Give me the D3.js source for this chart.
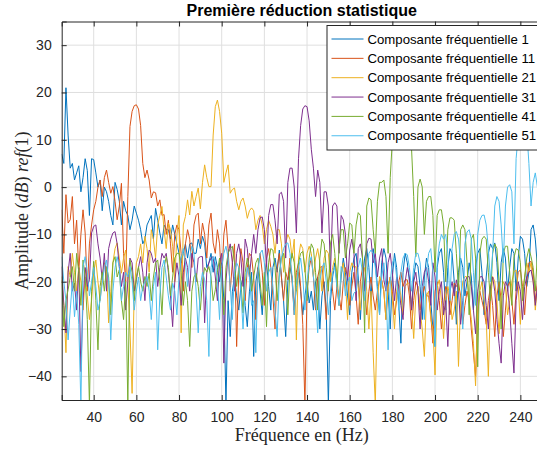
<!DOCTYPE html>
<html>
<head>
<meta charset="utf-8">
<script src="https://cdn.jsdelivr.net/npm/d3@7/dist/d3.min.js"></script>
<style>
  body { margin: 0; background: #fff; }
  svg { display: block; }
</style>
</head>
<body>
<div id="chart"></div>
<script>
// frequency grid (Hz), one sample per Hz
let freqStart = 25
let freqEnd = 250

// amplitude in dB ref(1), one value per Hz from 25 to 250
let comp1 = [
  7, 5, 21, 11, 4, 5, 1.5, 3, 4.5, -1,
  2, 6, 3.5, -6, 6, 5.8, 3, 0, 1.5, -5,
  0, -1, -3, -6, -8, 1, -0.5, -3, -8, -3,
  -5, -6, -9, -7, -4, -5.5, -7, -9, -12, -11,
  -8, -7, -6, -11, -4.5, -7, -9.7, -12, -8, -9,
  -9, -11, -8, -10, -12, -14, -16, -14, -12, -15,
  -12, -11.8, -14, -14, -11, -13, -10.4, -12, -17, -16,
  -14, -18, -14.7, -17, -20, -16, -24, -46, -24, -31.6,
  -22, -19, -23, -26, -21, -19, -25, -29.5, -22, -18,
  -35.8, -20, -17, -22, -27, -19, -16, -21, -26, -17,
  -15, -18, -13.3, -19, -24, -31.6, -20, -17, -19, -26,
  -21, -18, -22, -27, -23, -20, -24.5, -22, -26, -20,
  -19, -30, -23, -20, -26, -46, -24, -19, -16, -20,
  -25, -19, -15, -18, -23, -27, -18, -15, -14, -19,
  -28, -20, -15, -13, -17, -24, -13, -16, -21, -27,
  -16, -13, -15, -22, -30, -19, -14, -17, -25, -33,
  -18, -14, -16, -20, -26, -19, -16, -16.8, -21, -28,
  -19, -15, -17, -24, -30, -33.7, -17, -14, -13, -18,
  -26, -17, -13, -14, -20, -29, -18, -15, -17, -23,
  -20, -16, -19, -26, -17, -14, -13, -18, -27, -19,
  -14, -12, -13, -11.8, -16, -24, -16, -13, -15, -22,
  -17, -13, -14, -22, -15, -10.4, -11, -14, -21, -18,
  -9, -8, -11, -17, -13, -10
]

let comp11 = [
  -4.8, -14, -1.6, -7.6, -6.9, -2, -12, -7, -18, -10,
  -4.8, -9.7, -22, -12, -8, -4.8, -3, 0, 1.5, -2,
  2, 3.6, 1, -1.3, 0.1, -3, -6.9, -4, 0.8, -14,
  -20, -2, 12.8, 16, 17.2, 17.4, 16.5, 13, 5, 2,
  3.6, 1.5, -2.3, -1, -1.2, -4, -2.7, -6, -5.8, -10,
  -7, -12, -18, -10, -8, -9, -14, -22, -12, -9,
  -11, -17, -8, -6, -5.5, -12, -7.6, -10, -15, -8,
  -5.5, -11.8, -14, -9, -12, -20, -10, -7, -13, -22,
  -16, -12, -33.7, -18, -13, -16, -24, -17, -14, -14.7,
  -19, -28, -17, -14, -18, -25, -15, -13, -17, -23,
  -30, -17, -14, -19, -24, -18, -19.6, -15, -20, -27,
  -18, -16, -21, -29, -46, -22, -17, -15, -19, -26,
  -19, -17, -16.8, -21, -28, -20, -18, -22, -26, -21,
  -23, -26, -20, -17, -19, -25, -21, -18, -23, -29,
  -20, -17, -21, -27, -22, -19, -23, -26, -22, -19.6,
  -19.6, -22, -28, -21, -19, -22, -27, -24, -20, -18,
  -21, -19.6, -19.6, -23, -30, -24, -20, -21, -26, -23,
  -21, -23, -23, -27, -33, -22, -20, -24, -30, -25,
  -21, -22, -27, -24, -20.3, -21, -20.3, -23, -29, -25,
  -22, -24, -30, -35, -40, -27, -22, -24, -26, -29,
  -24, -21, -25, -31.6, -23, -20, -24, -31.6, -26, -21,
  -20, -24, -29, -22, -18, -17.5, -21, -27, -20, -16,
  -15.7, -18, -24, -20, -17, -19
]

let comp21 = [
  -19.6, -25, -35, -16.8, -19, -14, -18, -22, -16.8, -20,
  -26, -19, -23, -28, -24, -18, -15.4, -20, -24, -19,
  -16, -17.5, -28.7, -22, -16, -13, -11.8, -15, -18.2, -15,
  -13.3, -20, -30, -43.6, -22, -16, -14.7, -12, -16, -10.4,
  -13, -18, -9, -11, -15, -8, -6, -4.1, -9, -13,
  -7.6, -9, -12.5, -20, -10, -6, -30.8, -8, -6.2, -2.7,
  -5.9, -0.9, -4, -2, -0.2, -4.6, 1, 4.7, 2, 0.1,
  0.1, 11, 17, 18.4, 16, 11.4, 1, 3, 4.7, -1.3,
  -0.5, -0.2, -3, -4.8, -3, -2.3, -4, -6.6, -5, -4.4,
  -5, -9, -7, -6, -8, -12, -9, -7, -8.3, -10,
  -14, -9, -9, -12, -18, -12, -10, -11, -15, -11,
  -32.3, -15, -12, -13, -18, -14, -12.5, -14, -19, -15,
  -13, -16, -22, -15, -13.3, -14, -20, -17, -15, -18,
  -25, -18, -16, -20, -28, -18, -16, -17, -16.8, -21,
  -26, -19, -17, -22, -30, -22, -35, -46, -24, -18.9,
  -20, -22, -28, -21, -19, -24, -30, -22, -20, -23,
  -27, -21, -20.3, -20.3, -25, -32, -23, -21, -26, -30,
  -35.8, -23, -22, -28, -30, -39.7, -21, -19.6, -24, -32,
  -24, -21, -23, -28, -26, -22, -37.9, -24, -20, -18.9,
  -19, -24, -28, -33, -42, -26, -22, -20, -24, -28,
  -40, -24, -18.9, -20, -24, -31, -23, -20, -21, -27,
  -24, -20, -18, -17.5, -21, -29, -22, -19, -16, -18,
  -16, -20, -26, -21, -18, -17
]

let comp31 = [
  -16.8, -25, -30.8, -18, -14, -22, -20.3, -26, -17, -39,
  -24, -17, -21, -19.6, -9.7, -8.3, -8, -12, -15, -19.6,
  -14, -22, -13, -11, -9.7, -9.4, -12, -16.8, -21, -18,
  -26, -20, -15, -16, -22, -19.6, -17, -14.7, -18, -24,
  -16, -13.3, -14, -16, -15, -21, -17, -14, -15, -14,
  -18, -23, -29.5, -20, -16, -19, -25, -18, -15, -17,
  -22, -14, -16, -20, -15, -14.7, -14.7, -28.7, -18, -16,
  -15, -14.7, -19, -24, -16, -14, -37.2, -20, -14, -12,
  -16, -22, -14, -12, -15, -21, -11, -13, -19, -14,
  -10, -14, -9, -6.5, -6.3, -9, -16.8, -6, -3.7, -3.7,
  -7, -12, -1.5, -1.1, -3, -15, 1, 4, 4, 0,
  -9.7, 6, 13, 16.5, 17.2, 17, 14, 8, 4, -2,
  3.6, 1, -9.7, -1, -1, -4, -18, -4, -3.3, -4,
  -14, -6, -6.9, -10, -20, -13.3, -11, -14, -24, -13,
  -12, -15, -22, -12, -10.8, -11, -16, -14, -19, -15,
  -13, -19.6, -22, -16, -14, -18, -24, -19, -21, -25,
  -28, -20, -17, -19, -26, -20, -18, -22, -30, -21,
  -18, -17, -20, -25, -16, -19, -26, -22, -20, -27,
  -24, -33.7, -22, -20, -23, -19.6, -22, -29, -24, -20,
  -19, -18.9, -21, -26, -31, -22, -19, -18.9, -20, -25,
  -30, -21, -19, -22, -28, -33, -37.2, -23, -20, -21,
  -26, -33, -39.3, -24, -20, -22, -28, -21, -19, -18,
  -17.5, -20, -25, -21, -19, -22
]

let comp41 = [
  -18.9, -29.5, -24, -21.7, -19, -16.8, -22, -14, -18, -25,
  -15.4, -19, -28, -46, -22, -15.7, -24, -34.4, -21, -18,
  -22, -16.8, -19, -27, -16, -14.7, -19, -17.5, -24, -28,
  -20, -46, -15.4, -18, -24, -19, -16.8, -20, -22, -18.9,
  -21, -18.2, -24, -19, -16, -15.4, -20, -27, -17, -14.7,
  -17, -23, -19, -15, -14, -14, -18, -25, -20, -24,
  -33.7, -22, -19, -18.2, -21, -26, -20, -17, -18, -16.8,
  -19, -24, -21.7, -18, -15, -20, -27, -17, -14, -13,
  -12.5, -16, -21, -17, -20, -26.6, -18, -15, -17, -22,
  -19, -16, -15, -20, -25, -18, -29.5, -16, -13, -13.3,
  -17, -24, -18, -15, -14, -19, -27, -17, -14, -16,
  -22, -16, -14, -13.6, -17, -24, -15, -12, -13, -18,
  -26, -15, -11, -12, -17, -22, -11.8, -10, -14, -21,
  -13, -9, -9, -15, -12, -7.6, -8, -14, -8, -5.4,
  -6, -15, -30.8, -4, -2.3, -2.7, -9, -14, -3, 1,
  1, 1.5, -2, -14, 2, 10, 14, 16.5, 17.5, 18,
  17.5, 16.5, 15, 12, 8, -2, -14.7, 0, 1.7, 0,
  -10, -3, -2, -2, -6, -18, -6, -4.8, -4.8, -8,
  -20, -9, -6.5, -6.5, -7, -14, -22, -9, -8, -9,
  -16, -27, -11, -10, -15, -38, -14, -11, -10.4, -11,
  -18, -24, -14, -12, -13, -20, -30, -14, -12.5, -12.5,
  -18, -25, -15, -13, -13.3, -16, -24, -19, -15, -13,
  -14.7, -17, -22, -14, -13, -16
]

let comp51 = [
  -14.7, -20, -24, -32.3, -26, -20, -27.4, -22, -29, -46,
  -16.8, -14.7, -18, -23, -20, -17, -21, -26, -24, -20.3,
  -17, -15.4, -20, -32.3, -22, -17, -14.7, -17, -24, -21,
  -18, -19, -16.8, -20, -26, -22, -19, -24, -21, -20,
  -18.9, -22, -28, -21, -18, -34.4, -23, -17, -15.4, -19,
  -23, -26, -20.3, -22, -27, -19, -15, -13, -16, -21,
  -15, -12.5, -14, -22, -30.8, -21, -18, -19.6, -24, -35.8,
  -17, -14.7, -16, -20, -28, -17, -14, -12.5, -15, -21,
  -28, -18, -16, -17, -22, -30, -20, -17, -19, -25,
  -24, -35, -18, -14, -13.3, -16, -22, -18, -17, -21,
  -26, -31.6, -19, -15, -13, -12, -11.8, -14, -19, -27,
  -21, -17, -15, -19, -26, -20, -16, -14.7, -19, -23,
  -30.8, -20, -17, -16, -20, -27, -22, -18, -17, -21,
  -25, -16.8, -18, -23, -20, -19, -24, -22.4, -22, -17,
  -15, -18, -24, -19, -14, -13.3, -14, -17, -22, -27,
  -19, -16, -21, -34.4, -20, -16, -15, -19, -26, -18,
  -15, -14, -14.3, -17, -22, -17, -14, -14, -16, -22,
  -28, -18, -14, -13, -18, -33.7, -16, -12, -10, -11,
  -10, -14, -24, -13, -10, -9.4, -11, -16, -30, -12,
  -9.5, -9, -11, -18, -25, -10, -7, -6, -5.9, -8,
  -13, -20, -14, -4, -2, -3, -8, -16, -4, 0,
  0.5, -1, -12, 6, 11, 15, 17, 16, 12, 5,
  -4, 1, 3, 0, -8, -2
]

let seriesNames = [
  'Composante fréquentielle 1',
  'Composante fréquentielle 11',
  'Composante fréquentielle 21',
  'Composante fréquentielle 31',
  'Composante fréquentielle 41',
  'Composante fréquentielle 51'
]
let seriesValues = [comp1, comp11, comp21, comp31, comp41, comp51]
let seriesColors = ['#0072BD', '#D95319', '#EDB120', '#7E2F8E', '#77AC30', '#4DBEEE']

let xTicks = [40, 60, 80, 100, 120, 140, 160, 180, 200, 220, 240]
let yTicks = [-40, -30, -20, -10, 0, 10, 20, 30]

let margin = { top: 21.5, left: 61.7 }
let width = 480
let height = 378.5

let svg = d3
  .select('#chart')
  .append('svg')
  .attr('width', 537)
  .attr('height', 450)
  .append('g')
  .attr('transform', 'translate(' + margin.left + ',' + margin.top + ')')

let freqs = d3.range(freqStart, freqEnd + 1)

let xPositionScale = d3.scaleLinear().domain([25, 250]).range([0, width])
let yPositionScale = d3.scaleLinear().domain([-45, 35]).range([height, 0])

let axisColor = '#262626'
let gridColor = '#dfdfdf'
let sansFont = '"Liberation Sans", Arial, Helvetica, sans-serif'
let serifFont = '"Liberation Serif", "Times New Roman", serif'

// grid
svg
  .selectAll('.x-grid')
  .data(xTicks)
  .enter()
  .append('line')
  .attr('class', 'x-grid')
  .attr('x1', d => xPositionScale(d))
  .attr('x2', d => xPositionScale(d))
  .attr('y1', 0)
  .attr('y2', height)
  .attr('stroke', gridColor)

svg
  .selectAll('.y-grid')
  .data(yTicks)
  .enter()
  .append('line')
  .attr('class', 'y-grid')
  .attr('x1', 0)
  .attr('x2', width)
  .attr('y1', d => yPositionScale(d))
  .attr('y2', d => yPositionScale(d))
  .attr('stroke', gridColor)

svg
  .append('clipPath')
  .attr('id', 'plot-clip')
  .append('rect')
  .attr('width', width)
  .attr('height', height)

let line = d3
  .line()
  .x((d, i) => xPositionScale(freqs[i]))
  .y(d => yPositionScale(d))

svg
  .append('g')
  .attr('clip-path', 'url(#plot-clip)')
  .selectAll('path')
  .data(seriesValues)
  .enter()
  .append('path')
  .attr('d', d => line(d))
  .attr('fill', 'none')
  .attr('stroke', (d, i) => seriesColors[i])
  .attr('stroke-width', 1)
  .attr('stroke-linejoin', 'round')

// axes, MATLAB style: ticks inside, box on
let xAxis = d3
  .axisBottom(xPositionScale)
  .tickValues(xTicks)
  .tickSize(-5)
  .tickPadding(12)
let xAxisTop = d3
  .axisTop(xPositionScale)
  .tickValues(xTicks)
  .tickSize(-5)
  .tickFormat('')
let yAxis = d3
  .axisLeft(yPositionScale)
  .tickValues(yTicks)
  .tickSize(-5)
  .tickPadding(10)

svg
  .append('g')
  .attr('class', 'axis x-axis')
  .attr('transform', 'translate(0,' + height + ')')
  .call(xAxis)
svg
  .append('g')
  .attr('class', 'axis x-axis-top')
  .call(xAxisTop)
svg
  .append('g')
  .attr('class', 'axis y-axis')
  .call(yAxis)

svg.selectAll('.axis .domain').attr('stroke', axisColor)
svg.selectAll('.axis .tick line').attr('stroke', axisColor)
svg
  .selectAll('.axis .tick text')
  .attr('fill', axisColor)
  .attr('font-family', sansFont)
  .attr('font-size', 14)

// title and labels
svg
  .append('text')
  .attr('x', width / 2)
  .attr('y', -5.5)
  .attr('text-anchor', 'middle')
  .attr('font-family', sansFont)
  .attr('font-size', 16)
  .attr('font-weight', 'bold')
  .attr('fill', '#000')
  .text('Première réduction statistique')

svg
  .append('text')
  .attr('x', width / 2)
  .attr('y', height + 41)
  .attr('text-anchor', 'middle')
  .attr('font-family', serifFont)
  .attr('font-size', 18)
  .attr('fill', axisColor)
  .text('Fréquence en (Hz)')

let yLabel = svg
  .append('text')
  .attr('transform', 'translate(' + (28 - margin.left) + ',' + height / 2 + ') rotate(-90)')
  .attr('text-anchor', 'middle')
  .attr('font-family', serifFont)
  .attr('font-size', 18)
  .attr('fill', axisColor)
yLabel.append('tspan').text('Amplitude (')
yLabel.append('tspan').attr('font-style', 'italic').text('dB')
yLabel.append('tspan').text(') ')
yLabel.append('tspan').attr('font-style', 'italic').text('ref')
yLabel.append('tspan').text('(1)')

// legend, top right
let legend = svg
  .append('g')
  .attr('transform', 'translate(' + (327 - margin.left) + ',' + (25.5 - margin.top) + ')')

legend
  .append('rect')
  .attr('width', 214)
  .attr('height', 124.5)
  .attr('fill', '#fff')
  .attr('stroke', axisColor)
  .attr('stroke-width', 1)

let rows = legend
  .selectAll('.legend-row')
  .data(seriesNames)
  .enter()
  .append('g')
  .attr('class', 'legend-row')
  .attr('transform', (d, i) => 'translate(0,' + (13.5 + i * 19.35) + ')')

rows
  .append('line')
  .attr('x1', 4.5)
  .attr('x2', 36.5)
  .attr('stroke', (d, i) => seriesColors[i])
  .attr('stroke-width', 1)

rows
  .append('text')
  .attr('x', 40.5)
  .attr('dy', '0.35em')
  .attr('font-family', sansFont)
  .attr('font-size', 13.2)
  .attr('fill', '#000')
  .text(d => d)
</script>
</body>
</html>
